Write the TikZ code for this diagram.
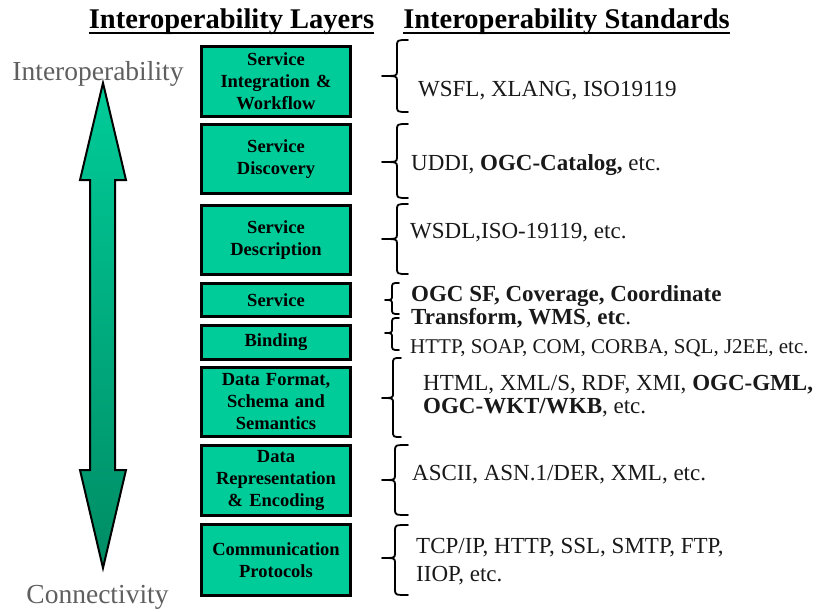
\documentclass[tikz,border=0pt]{standalone}
\usepackage{fontspec}
\setmainfont{Liberation Serif}
\definecolor{layergreen}{RGB}{0,204,153}
\definecolor{arrowtop}{RGB}{0,204,153}
\definecolor{arrowbot}{RGB}{0,140,100}
\definecolor{labelgray}{RGB}{95,95,95}
\definecolor{stdtext}{RGB}{25,25,25}
% curly brace opening to the right: tip x, spine x, end x, top y, tip y, bottom y
\newcommand\layerbrace[6]{%
  \draw[stdbrace] (#3,#4) .. controls (#2,#4) .. (#2,#4+6) -- (#2,#5-5)
    .. controls (#2,#5) .. (#1,#5) .. controls (#2,#5) .. (#2,#5+5)
    -- (#2,#6-6) .. controls (#2,#6) .. (#3,#6);}
\begin{document}
\begin{tikzpicture}[x=1pt,y=-1pt,
  layer/.style={draw=black, line width=3pt, fill=layergreen, inner sep=0pt,
    minimum width=149pt, text width=149pt, align=center,
    font=\fontsize{18.5}{22}\selectfont\bfseries},
  std/.style={anchor=base west, inner sep=0pt, text=stdtext,
    font=\fontsize{23}{23}\selectfont},
  header/.style={anchor=base, inner sep=0pt, font=\fontsize{28.5}{30}\selectfont\bfseries},
  endlabel/.style={anchor=base, inner sep=0pt, text=labelgray,
    font=\fontsize{27.5}{30}\selectfont},
  stdbrace/.style={draw=black, line width=1.8pt, line join=round, line cap=round}
]
\useasboundingbox (0,0) rectangle (820,611);

% column headers
\node[header] (hl) at (231.5,28) {Interoperability Layers};
\node[header] (hs) at (566.5,28) {Interoperability Standards};
\draw[line width=2.6pt] ([yshift=-5pt]hl.base west) -- ([yshift=-5pt]hl.base east);
\draw[line width=2.6pt] ([yshift=-5pt]hs.base west) -- ([yshift=-5pt]hs.base east);

% axis labels
\node[endlabel] (top) at (98,80) {Interoperability};
\node[endlabel] (bottom) at (97.5,603) {Connectivity};

% double-headed axis arrow
\path[draw=black, line width=2pt, line join=miter, top color=arrowtop, bottom color=arrowbot]
  (103,83) -- (126,180) -- (115,180) -- (115,470) -- (126,470) -- (103,568)
  -- (80,470) -- (90,470) -- (90,180) -- (80,180) -- cycle;

% layer stack
\node[layer, minimum height=70pt] (l1) at (276,81.5) {Service\\Integration \&\\Workflow};
\node[layer, minimum height=69pt] (l2) at (276,159) {Service\\Discovery};
\node[layer, minimum height=69pt] (l3) at (276,240) {Service\\Description};
\node[layer, minimum height=33pt] (l4) at (276,300) {Service};
\node[layer, minimum height=34pt] (l5) at (276,342.5) {Binding};
\node[layer, minimum height=69pt] (l6) at (276,402) {Data Format,\\Schema and\\Semantics};
\node[layer, minimum height=70pt] (l7) at (276,480.5) {Data\\Representation\\\& Encoding};
\node[layer, minimum height=71pt] (l8) at (276,560) {Communication\\Protocols};

% braces
\layerbrace{382}{397}{408}{40}{76}{112}
\layerbrace{382}{397}{408}{124}{162}{198}
\layerbrace{382}{397}{408}{204}{239}{274}
\layerbrace{385}{392}{399}{283}{300}{314}
\layerbrace{385}{392}{399}{318}{333}{350}
\layerbrace{382}{393}{401}{358}{398}{437}
\layerbrace{382}{395}{408}{445}{480}{515}
\layerbrace{382}{395}{408}{525}{558}{595}

% standards
\node[std] (s1) at (418,96) {WSFL, XLANG, ISO19119};
\node[std] (s2) at (411,170) {UDDI, \textbf{OGC-Catalog,} etc.};
\node[std] (s3) at (410,238) {WSDL,ISO-19119, etc.};
\node[std] (s4a) at (411,301) {\textbf{OGC SF, Coverage, Coordinate}};
\node[std] (s4b) at (411,324) {\textbf{Transform, WMS}, \textbf{etc}.};
\node[std, font=\fontsize{21}{21}\selectfont] (s5) at (410,353) {HTTP, SOAP, COM, CORBA, SQL, J2EE, etc.};
\node[std] (s6a) at (423,390) {HTML, XML/S, RDF, XMI, \textbf{OGC-GML,}};
\node[std] (s6b) at (423,413) {\textbf{OGC-WKT/WKB}, etc.};
\node[std] (s7) at (412,480) {ASCII, ASN.1/DER, XML, etc.};
\node[std] (s8a) at (416,553) {TCP/IP, HTTP, SSL, SMTP, FTP,};
\node[std] (s8b) at (416,581) {IIOP, etc.};
\end{tikzpicture}
\end{document}
